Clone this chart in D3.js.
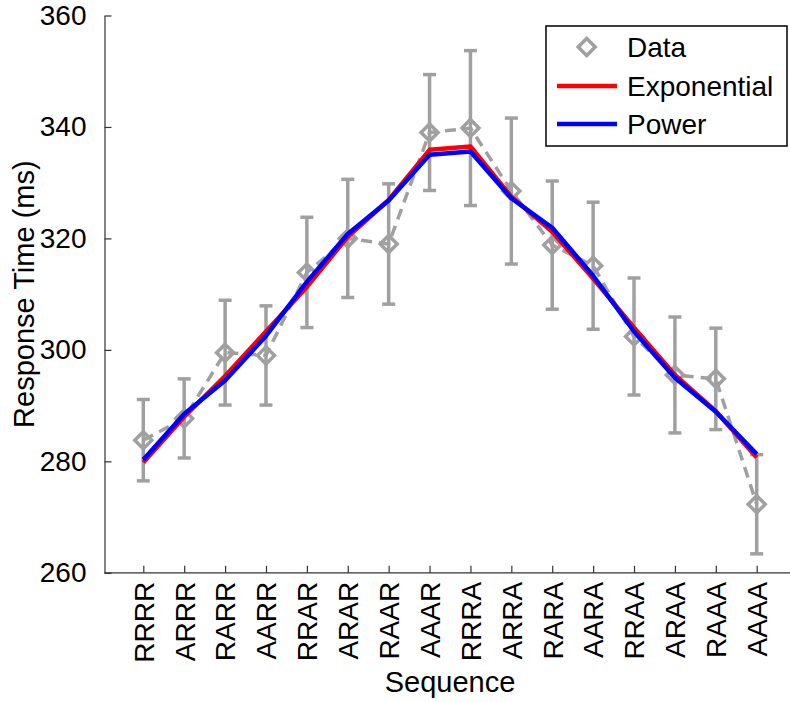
<!DOCTYPE html>
<html>
<head>
<meta charset="utf-8">
<script src="https://cdn.jsdelivr.net/npm/d3@7"></script>
<style>
  html, body { margin: 0; padding: 0; background: #fff; }
  svg { display: block; }
  text { font-family: "Liberation Sans", Arial, Helvetica, sans-serif; fill: #000; }
</style>
</head>
<body>
<svg id="chart" width="790" height="702"></svg>
<script>
const categories = ["RRRR","ARRR","RARR","AARR","RRAR","ARAR","RAAR","AAAR","RRRA","ARRA","RARA","AARA","RRAA","ARAA","RAAA","AAAA"];
const dataMean = [283.8, 287.7, 299.5, 299.0, 313.9, 320.0, 319.0, 339.0, 339.8, 328.5, 318.8, 315.1, 302.4, 295.5, 294.8, 272.3];
const dataErr  = [7.3, 7.1, 9.4, 8.9, 9.9, 10.6, 10.8, 10.4, 13.9, 13.1, 11.5, 11.4, 10.5, 10.4, 9.1, 8.9];
const expoFit  = [279.8, 288.0, 295.3, 303.3, 311.3, 320.3, 326.9, 335.9, 336.5, 327.5, 321.2, 312.8, 304.0, 295.5, 289.0, 280.7];
const powerFit = [280.3, 288.5, 294.5, 302.5, 312.2, 320.8, 326.8, 335.0, 335.6, 327.2, 321.9, 313.3, 303.3, 295.0, 288.9, 281.3];
const yTicks = [260, 280, 300, 320, 340, 360];
const legendLabels = ["Data", "Exponential", "Power"];

const GRAY = "#a0a0a0", RED = "#ff0000", BLUE = "#0000ff", AXIS = "#333333";
const svg = d3.select("#chart");

const x = d3.scalePoint().domain(categories).range([143.3, 756.7]);
const y = d3.scaleLinear().domain([260, 360]).range([572.8, 15.5]);
const axisLeftX = 104.5, axisRightX = 800;

// Error bars
const eb = svg.append("g");
categories.forEach((c, i) => {
  const cx = x(c), top = y(dataMean[i] + dataErr[i]), bot = y(dataMean[i] - dataErr[i]);
  eb.append("line").attr("x1", cx).attr("x2", cx).attr("y1", top).attr("y2", bot)
    .attr("stroke", GRAY).attr("stroke-width", 3.5);
  [top, bot].forEach(yy => eb.append("line").attr("x1", cx - 6.5).attr("x2", cx + 6.5)
    .attr("y1", yy).attr("y2", yy).attr("stroke", GRAY).attr("stroke-width", 3.5));
});

// Data dashed line
const line = d3.line().x((d, i) => x(categories[i])).y(d => y(d));
svg.append("path").datum(dataMean).attr("d", line).attr("fill", "none")
  .attr("stroke", GRAY).attr("stroke-width", 3.5).attr("stroke-dasharray", "11,7");

// Diamond markers
const diamond = (cx, cy, r) => `M${cx},${cy - r}L${cx + r},${cy}L${cx},${cy + r}L${cx - r},${cy}Z`;
svg.append("g").selectAll("path").data(dataMean).join("path")
  .attr("d", (d, i) => diamond(x(categories[i]), y(d), 8.5))
  .attr("fill", "none").attr("stroke", GRAY).attr("stroke-width", 3.5);

// Fit lines
svg.append("path").datum(expoFit).attr("d", line).attr("fill", "none")
  .attr("stroke", RED).attr("stroke-width", 4.5).attr("stroke-linejoin", "round");
svg.append("path").datum(powerFit).attr("d", line).attr("fill", "none")
  .attr("stroke", BLUE).attr("stroke-width", 4.5).attr("stroke-linejoin", "round");

// Y axis
const yAxis = d3.axisLeft(y).tickValues(yTicks).tickSizeInner(-7).tickSizeOuter(0).tickPadding(18);
const gy = svg.append("g").attr("transform", `translate(${axisLeftX},0)`).call(yAxis);
gy.select(".domain").attr("stroke", AXIS).attr("stroke-width", 1.2);
gy.selectAll(".tick line").attr("stroke", AXIS).attr("stroke-width", 1.2);
gy.selectAll(".tick text").style("font-size", "28px").attr("fill", "#000")
  .style("font-family", "'Liberation Sans', Arial, sans-serif");

// X axis
const xAxis = d3.axisBottom(x).tickSizeInner(-7).tickSizeOuter(0).tickPadding(0);
const gx = svg.append("g").attr("transform", `translate(0,${y(260)})`).call(xAxis);
gx.select(".domain").remove();
gx.append("line").attr("x1", axisLeftX).attr("x2", axisRightX).attr("y1", 0).attr("y2", 0)
  .attr("stroke", AXIS).attr("stroke-width", 1.2);
gx.selectAll(".tick line").attr("stroke", AXIS).attr("stroke-width", 1.2);
gx.selectAll(".tick text").style("font-size", "28px").attr("fill", "#000")
  .style("font-family", "'Liberation Sans', Arial, sans-serif")
  .attr("transform", "translate(0,9) rotate(-90)")
  .attr("text-anchor", "end").attr("x", 0).attr("y", 0).attr("dy", "0.35em");

// Axis labels
svg.append("text").attr("transform", `translate(34,${(y(260) + y(360)) / 2}) rotate(-90)`)
  .attr("text-anchor", "middle").style("font-size", "29px").text("Response Time (ms)");
svg.append("text").attr("x", 450).attr("y", 692).attr("text-anchor", "middle")
  .style("font-size", "29px").text("Sequence");

// Legend
const lg = svg.append("g");
lg.append("rect").attr("x", 546).attr("y", 26).attr("width", 241).attr("height", 120)
  .attr("fill", "#fff").attr("stroke", "#000").attr("stroke-width", 1.5);
const rowY = [47, 86, 124];
lg.append("path").attr("d", diamond(586.7, rowY[0], 8.5)).attr("fill", "none")
  .attr("stroke", GRAY).attr("stroke-width", 3.5);
lg.append("line").attr("x1", 557).attr("x2", 617).attr("y1", rowY[1]).attr("y2", rowY[1])
  .attr("stroke", RED).attr("stroke-width", 4.5);
lg.append("line").attr("x1", 557).attr("x2", 617).attr("y1", rowY[2]).attr("y2", rowY[2])
  .attr("stroke", BLUE).attr("stroke-width", 4.5);
legendLabels.forEach((t, i) => lg.append("text").attr("x", 627).attr("y", rowY[i])
  .attr("dy", "0.35em").style("font-size", "28px").text(t));
</script>
</body>
</html>
